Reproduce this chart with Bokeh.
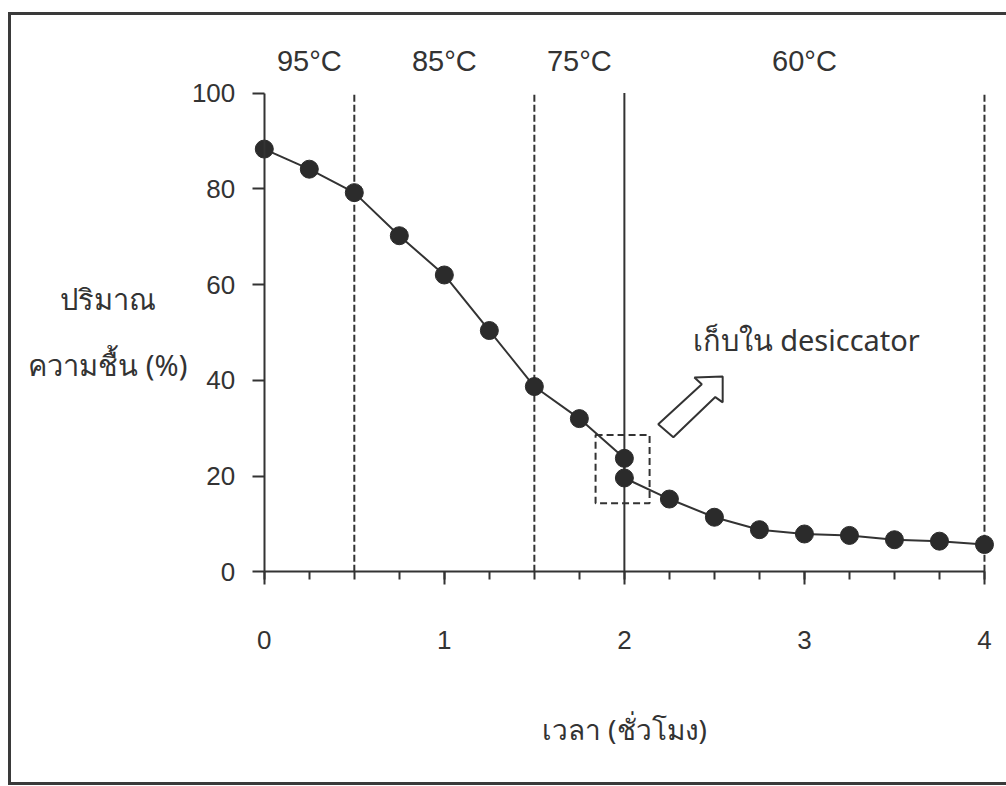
from bokeh.plotting import figure
from bokeh.models import SingleIntervalTicker, Label, Range1d
from bokeh.embed import file_html
from bokeh.resources import INLINE
from bokeh.core.properties import value

# ---- data ----
hours = [0, 0.25, 0.5, 0.75, 1, 1.25, 1.5, 1.75, 2, 2, 2.25, 2.5, 2.75, 3, 3.25, 3.5, 3.75, 4]
moisture = [88.3, 84.1, 79.2, 70.2, 62.0, 50.4, 38.7, 32.0, 23.7, 19.6, 15.2, 11.4, 8.8, 7.9, 7.6, 6.7, 6.4, 5.7]

zone_labels = ["95°C", "85°C", "75°C", "60°C"]
zone_centers = [0.25, 1.0, 1.75, 3.0]
dashed_bounds = [0.5, 1.5, 4]
solid_bounds = [2]

INK = "#333333"
FONT = "Liberation Sans"
THAI = "Noto Sans"

H = 767
p = figure(width=995, height=H,
           x_range=Range1d(-1.404, 4.139), y_range=Range1d(-45.26, 116.2),
           output_backend="svg", toolbar_location=None,
           min_border_left=0, min_border_right=0,
           min_border_top=0, min_border_bottom=0)
p.styles = {"box-sizing": "content-box",
            "margin-left": "8px", "margin-top": "12px",
            "border-left": "3px solid #3a3a3a",
            "border-top": "3px solid #3a3a3a",
            "border-bottom": "3px solid #3a3a3a"}
p.grid.visible = False
p.outline_line_color = None
p.background_fill_color = "white"
p.border_fill_color = "white"

# y axis
ya = p.yaxis[0]
ya.fixed_location = 0
ya.ticker = SingleIntervalTicker(interval=20, num_minor_ticks=0)
ya.bounds = (0, 100)
ya.axis_line_color = INK
ya.axis_line_width = 2
ya.major_tick_line_color = INK
ya.major_tick_line_width = 2
ya.major_tick_in = 0
ya.major_tick_out = 12
ya.minor_tick_line_color = None
ya.major_label_standoff = 17
ya.major_label_text_font = FONT
ya.major_label_text_font_size = "26px"
ya.major_label_text_color = INK

# x axis
xa = p.xaxis[0]
xa.fixed_location = 0
xa.ticker = SingleIntervalTicker(interval=1, num_minor_ticks=4)
xa.bounds = (0, 4)
xa.axis_line_color = INK
xa.axis_line_width = 2
xa.major_tick_line_color = INK
xa.major_tick_line_width = 2
xa.minor_tick_line_color = INK
xa.minor_tick_line_width = 2
xa.major_tick_in = 0
xa.major_tick_out = 13
xa.minor_tick_in = 0
xa.minor_tick_out = 8
xa.major_label_standoff = 46
xa.major_label_text_font = FONT
xa.major_label_text_font_size = "26px"
xa.major_label_text_color = INK

# zone boundary lines
p.segment(x0=dashed_bounds, y0=[0] * len(dashed_bounds), x1=dashed_bounds, y1=[100] * len(dashed_bounds),
          line_color=INK, line_width=2, line_dash="7 3")
p.segment(x0=solid_bounds, y0=[0] * len(solid_bounds), x1=solid_bounds, y1=[100] * len(solid_bounds),
          line_color=INK, line_width=2)

# zone labels
p.text(x=zone_centers, y=[106.7] * len(zone_centers), text=zone_labels,
       text_font=value(FONT), text_font_size="29px", text_color=INK,
       text_align="center", text_baseline="middle")

# data
p.line(hours, moisture, line_color=INK, line_width=2)
p.scatter(hours, moisture, size=18, fill_color="#2b2b2b", line_color="#2b2b2b")

# dashed highlight box around the desiccator transfer
p.quad(left=[1.84], right=[2.14], bottom=[14.3], top=[28.6],
       fill_color=None, line_color=INK, line_width=2, line_dash="7 4")

# hollow block arrow
arrow_x = [2.546, 2.389, 2.430, 2.188, 2.272, 2.505, 2.546]
arrow_y = [40.8, 40.6, 39.2, 30.8, 28.1, 36.5, 35.4]
p.patch(arrow_x, arrow_y, fill_color="white", line_color=INK, line_width=2)

p.add_layout(Label(x=3.01, y=48.6, text="เก็บใน desiccator", text_font=THAI,
                   text_font_size="29px", text_color=INK,
                   text_align="center", text_baseline="middle"))

# axis titles
p.add_layout(Label(x=-0.869, y=57.1, text="ปริมาณ", text_font=THAI,
                   text_font_size="29px", text_color=INK,
                   text_align="center", text_baseline="middle"))
p.add_layout(Label(x=-0.869, y=43.4, text="ความชื้น (%)", text_font=THAI,
                   text_font_size="29px", text_color=INK,
                   text_align="center", text_baseline="middle"))
p.add_layout(Label(x=2.0, y=-32.8, text="เวลา (ชั่วโมง)", text_font=THAI,
                   text_font_size="28px", text_color=INK,
                   text_align="center", text_baseline="middle"))

open("out.html", "w").write(file_html(p, INLINE))
